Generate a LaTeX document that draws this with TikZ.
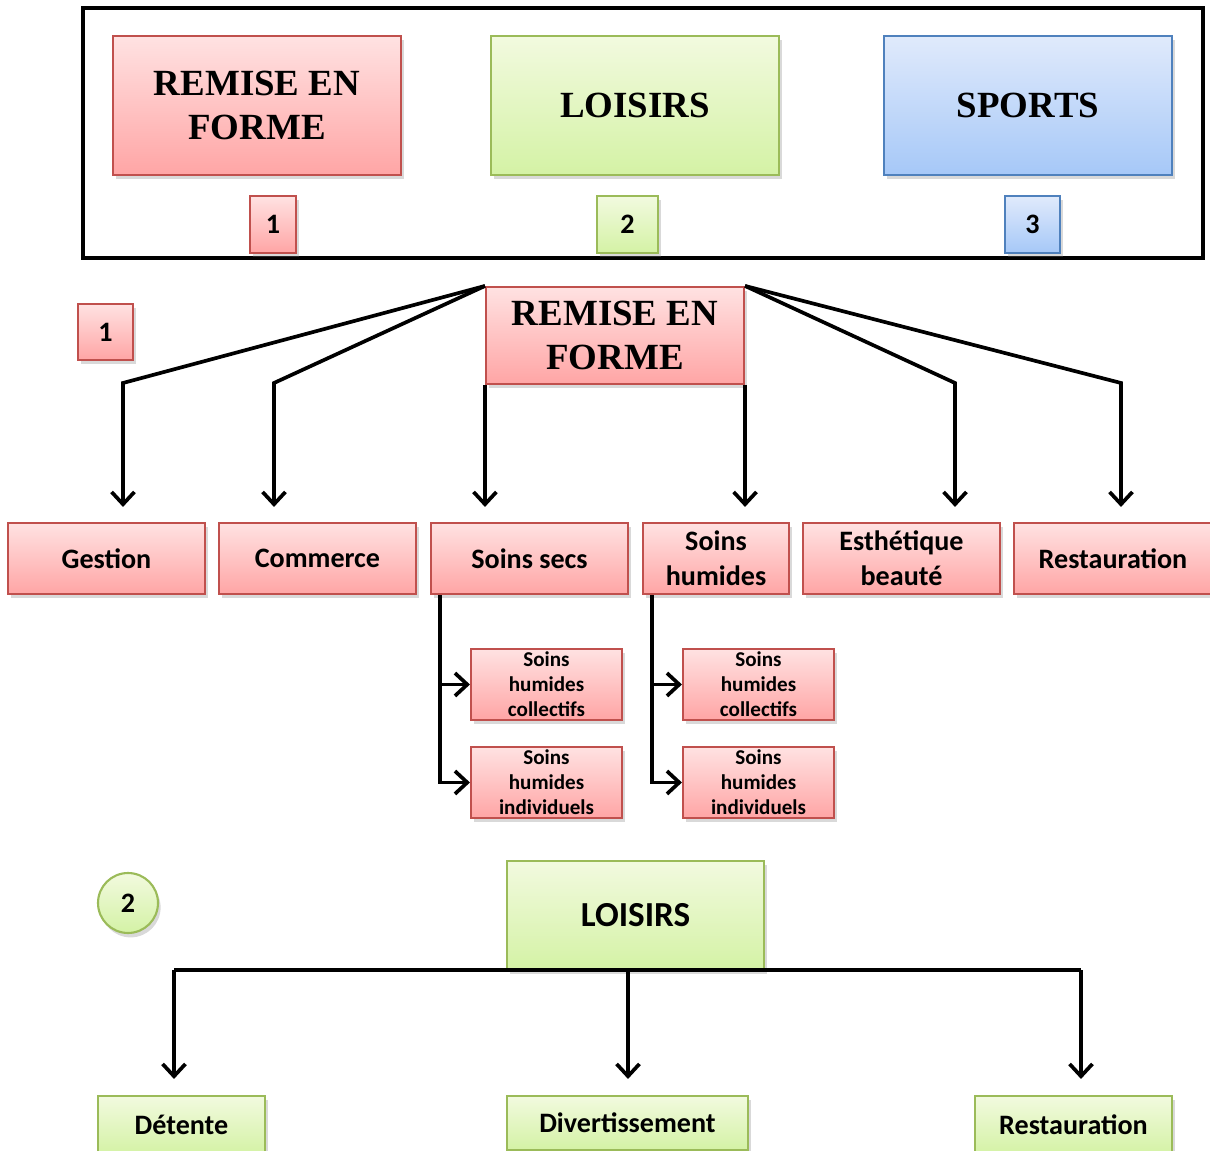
\documentclass[tikz,border=0pt]{standalone}
\usepackage{fontspec}
\setmainfont{Liberation Serif}
\newfontfamily\calibri{Carlito}
\usetikzlibrary{arrows.meta, shadows}
\definecolor{cRouge}{HTML}{C0504D}
\definecolor{cRougeHaut}{HTML}{FFE2E2}
\definecolor{cRougeBas}{HTML}{FFA5A5}
\definecolor{cVert}{HTML}{9BBB59}
\definecolor{cVertHaut}{HTML}{F2FADF}
\definecolor{cVertBas}{HTML}{D4F2A5}
\definecolor{cBleu}{HTML}{4F81BD}
\definecolor{cBleuHaut}{HTML}{E0EAFB}
\definecolor{cBleuBas}{HTML}{A6C8F8}
\tikzset{
  boite/.style={
    draw=#1, top color=#1Haut, bottom color=#1Bas,
    line width=1.2pt, align=center, inner sep=1pt,
    drop shadow={opacity=0.3, shadow xshift=1.5pt, shadow yshift=-2.5pt},
  },
  titre/.style={font=\bfseries\fontsize{21}{25}\selectfont},
  etiq/.style={font=\calibri\bfseries\fontsize{16}{20}\selectfont},
  petit/.style={font=\calibri\bfseries\fontsize{12}{14.2}\selectfont},
  arw/.style={-{Straight Barb[length=7pt, width=13pt]}, line width=2.1pt},
}
\begin{document}
\begin{tikzpicture}[x=0.02cm, y=-0.02cm]
  \useasboundingbox (0,0) rectangle (1210,1151);

  % the three families, framed
  \draw[line width=2.8pt] (83,8) rectangle (1203,258);
  \node[boite=cRouge, titre, minimum width=5.76cm, minimum height=2.78cm]
    (tRemise) at (257,105.5) {REMISE EN\\FORME};
  \node[boite=cVert, titre, minimum width=5.76cm, minimum height=2.78cm]
    (tLoisirs) at (635,105.5) {LOISIRS};
  \node[boite=cBleu, titre, minimum width=5.76cm, minimum height=2.78cm]
    (tSports) at (1028,105.5) {SPORTS};
  \node[boite=cRouge, etiq, minimum width=0.92cm, minimum height=1.14cm]
    (n1) at (273,224.5) {1};
  \node[boite=cVert, etiq, minimum width=1.22cm, minimum height=1.14cm]
    (n2) at (627.5,224.5) {2};
  \node[boite=cBleu, etiq, minimum width=1.1cm, minimum height=1.14cm]
    (n3) at (1032.5,224.5) {3};

  % 1 : remise en forme
  \node[boite=cRouge, etiq, minimum width=1.1cm, minimum height=1.12cm]
    (b1) at (105.5,332) {1};
  \node[boite=cRouge, titre, minimum width=5.16cm, minimum height=1.94cm]
    (rf) at (615,335.5) {REMISE EN\\FORME};

  \node[boite=cRouge, etiq, minimum width=3.94cm, minimum height=1.42cm]
    (gestion) at (106.5,558.5) {Gestion};
  \node[boite=cRouge, etiq, minimum width=3.94cm, minimum height=1.42cm]
    (commerce) at (317.5,558.5) {Commerce};
  \node[boite=cRouge, etiq, minimum width=3.94cm, minimum height=1.42cm]
    (secs) at (529.5,558.5) {Soins secs};
  \node[boite=cRouge, etiq, minimum width=2.92cm, minimum height=1.42cm]
    (humides) at (716,558.5) {Soins\\humides};
  \node[boite=cRouge, etiq, minimum width=3.94cm, minimum height=1.42cm]
    (esth) at (901.5,558.5) {Esthétique\\beauté};
  \node[boite=cRouge, etiq, minimum width=3.96cm, minimum height=1.42cm]
    (resto) at (1113,558.5) {Restauration};

  \node[boite=cRouge, petit, minimum width=3.02cm, minimum height=1.42cm]
    (sc1) at (546.5,684.5) {Soins\\humides\\collectifs};
  \node[boite=cRouge, petit, minimum width=3.02cm, minimum height=1.42cm]
    (si1) at (546.5,782.5) {Soins\\humides\\individuels};
  \node[boite=cRouge, petit, minimum width=3.02cm, minimum height=1.42cm]
    (sc2) at (758.5,684.5) {Soins\\humides\\collectifs};
  \node[boite=cRouge, petit, minimum width=3.02cm, minimum height=1.42cm]
    (si2) at (758.5,782.5) {Soins\\humides\\individuels};

  % bends of the fan-out
  \coordinate (kGes) at (123,383);
  \coordinate (kCom) at (274,383);
  \coordinate (kEst) at (955,383);
  \coordinate (kRes) at (1121,383);

  \draw[arw, shorten >=0.3cm] (rf.north west) -- (kGes) -- (kGes |- gestion.north);
  \draw[arw, shorten >=0.3cm] (rf.north west) -- (kCom) -- (kCom |- commerce.north);
  \draw[arw, shorten >=0.3cm] (rf.south west) -- (rf.south west |- secs.north);
  \draw[arw, shorten >=0.3cm] (rf.south east) -- (rf.south east |- humides.north);
  \draw[arw, shorten >=0.3cm] (rf.north east) -- (kEst) -- (kEst |- esth.north);
  \draw[arw, shorten >=0.3cm] (rf.north east) -- (kRes) -- (kRes |- resto.north);

  % sub-branches of the soins
  \coordinate (bS) at ([xshift=0.2cm]secs.south west);
  \coordinate (bH) at ([xshift=0.2cm]humides.south west);
  \draw[arw] (bS) |- (sc1.west);
  \draw[arw] (bS) |- (si1.west);
  \draw[arw] (bH) |- (sc2.west);
  \draw[arw] (bH) |- (si2.west);

  % 2 : loisirs
  \node[boite=cVert, etiq, circle, minimum size=1.2cm] (b2) at (128,903) {2};
  \node[boite=cVert, etiq, font=\calibri\bfseries\fontsize{20}{24}\selectfont,
        minimum width=5.14cm, minimum height=2.18cm]
    (loisirs) at (635.5,915.5) {LOISIRS};

  \node[boite=cVert, etiq, minimum width=3.34cm, minimum height=1.16cm]
    (detente) at (181.5,1125) {Détente};
  \node[boite=cVert, etiq, minimum width=4.82cm, minimum height=1.08cm]
    (divert) at (627.5,1123) {Divertissement};
  \node[boite=cVert, etiq, minimum width=3.94cm, minimum height=1.16cm]
    (resto2) at (1073.5,1125) {Restauration};

  \coordinate (gL) at (174,970);
  \coordinate (gM) at (628,970);
  \coordinate (gR) at (1081,970);
  \draw[line width=2.1pt] (gL) -- (gR);
  \draw[arw, shorten >=0.32cm] (gL) -- (gL |- detente.north);
  \draw[arw, shorten >=0.32cm] (gM) -- (gM |- divert.north);
  \draw[arw, shorten >=0.32cm] (gR) -- (gR |- resto2.north);
\end{tikzpicture}
\end{document}
